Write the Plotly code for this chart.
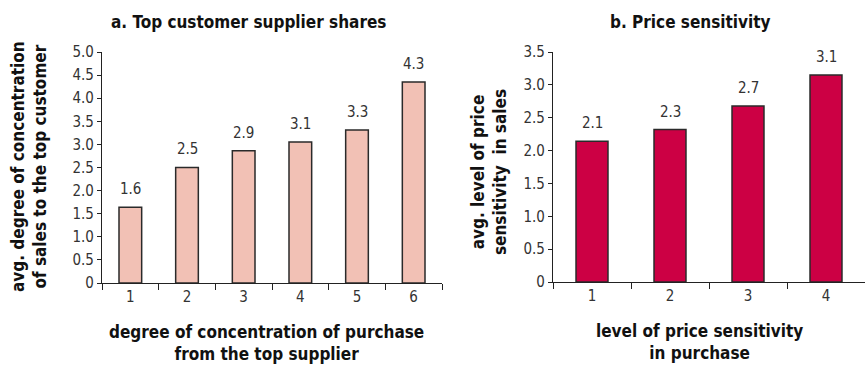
import plotly.graph_objects as go

# Panel a
cats_a = ["1", "2", "3", "4", "5", "6"]
vals_a = [1.64, 2.50, 2.86, 3.05, 3.31, 4.35]
labels_a = ["1.6", "2.5", "2.9", "3.1", "3.3", "4.3"]
ytick_vals_a = [0, 0.5, 1.0, 1.5, 2.0, 2.5, 3.0, 3.5, 4.0, 4.5, 5.0]
ytick_text_a = ["0", "0.5", "1.0", "1.5", "2.0", "2.5", "3.0", "3.5", "4.0", "4.5", "5.0"]

# Panel b
cats_b = ["1", "2", "3", "4"]
vals_b = [2.14, 2.32, 2.68, 3.15]
labels_b = ["2.1", "2.3", "2.7", "3.1"]
ytick_vals_b = [0, 0.5, 1.0, 1.5, 2.0, 2.5, 3.0, 3.5]
ytick_text_b = ["0", "0.5", "1.0", "1.5", "2.0", "2.5", "3.0", "3.5"]

FONT = "Liberation Sans Narrow, DejaVu Sans Condensed, Arial Narrow, sans-serif"
W, H = 865, 366

fig = go.Figure()
fig.add_trace(go.Bar(x=cats_a, y=vals_a, width=0.4, marker=dict(color="#F2C1B5", line=dict(color="#2a2a2a", width=1.5)),
                     xaxis="x", yaxis="y", showlegend=False))
fig.add_trace(go.Bar(x=cats_b, y=vals_b, width=0.41, marker=dict(color="#CC0044", line=dict(color="#2a2a2a", width=1.5)),
                     xaxis="x2", yaxis="y2", showlegend=False))

annotations = []
for i, (v, t) in enumerate(zip(vals_a, labels_a)):
    annotations.append(dict(x=i, y=v, text=t, xref="x", yref="y", showarrow=False, yanchor="bottom", yshift=7,
                            font=dict(family=FONT, size=15, color="#333")))
for i, (v, t) in enumerate(zip(vals_b, labels_b)):
    annotations.append(dict(x=i, y=v, text=t, xref="x2", yref="y2", showarrow=False, yanchor="bottom", yshift=7,
                            font=dict(family=FONT, size=15, color="#333")))

def px(x):
    return x / W

def py(y):
    return 1 - y / H

title_font = dict(family=FONT, size=17, color="#111")
def note(x, y, text, angle=0):
    return dict(x=px(x), y=py(y), xref="paper", yref="paper", text=text, showarrow=False,
                xanchor="center", yanchor="middle", textangle=angle, font=title_font)

annotations += [
    note(248, 22, "<b>a. Top customer supplier shares</b>"),
    note(690, 22, "<b>b. Price sensitivity</b>"),
    note(266, 343, "<b>degree of concentration of purchase<br>from the top supplier</b>"),
    note(699, 342, "<b>level of price sensitivity<br>in purchase</b>"),
    note(29, 167, "<b>avg. degree of concentration<br>of sales to the top customer</b>", -90),
    note(489, 172, "<b>avg. level of price<br>sensitivity  in sales</b>", -90),
]

tick_font = dict(family=FONT, size=15, color="#333")
common_x = dict(type="category", showline=True, linecolor="#222", linewidth=1.2, ticks="outside", tickson="boundaries",
                ticklen=6, tickcolor="#222", tickfont=tick_font, showgrid=False, zeroline=False, fixedrange=True,
                automargin=False)
common_y = dict(showline=True, linecolor="#222", linewidth=1.2, ticks="outside", ticklen=4, tickcolor="#222",
                tickfont=tick_font, showgrid=False, zeroline=False, fixedrange=True, automargin=False)

fig.update_layout(
    width=W, height=H, autosize=False,
    margin=dict(l=0, r=0, t=0, b=0, pad=0),
    paper_bgcolor="white", plot_bgcolor="white",
    xaxis=dict(domain=[px(102), px(442)], anchor="y", range=[-0.5, 5.5], **common_x),
    yaxis=dict(domain=[py(283), py(52)], anchor="x", range=[0, 5.0], tickvals=ytick_vals_a, ticktext=ytick_text_a, **common_y),
    xaxis2=dict(domain=[px(553), 1.0], anchor="y2", range=[-0.5, 3.5], **common_x),
    yaxis2=dict(domain=[py(282), py(52)], anchor="x2", range=[0, 3.5], tickvals=ytick_vals_b, ticktext=ytick_text_b, **common_y),
    annotations=annotations,
)

fig.write_html("out.html", config={"responsive": False, "displayModeBar": False},
               post_script="document.body.style.margin='0';document.body.style.padding='0';")
